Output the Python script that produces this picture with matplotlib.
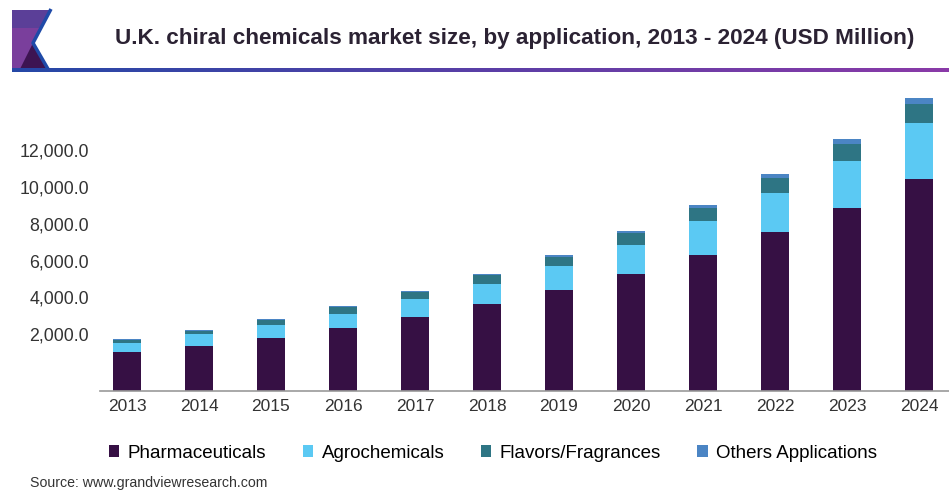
import matplotlib
matplotlib.use("Agg")
import numpy as np
import matplotlib.pyplot as plt
from matplotlib.patches import Polygon, Patch
from matplotlib.colors import LinearSegmentedColormap
from matplotlib.transforms import ScaledTranslation

plt.rcParams['font.family'] = ['Liberation Sans', 'DejaVu Sans']

years = ['2013', '2014', '2015', '2016', '2017', '2018',
         '2019', '2020', '2021', '2022', '2023', '2024']
pharmaceuticals = [2120, 2445, 2880, 3425, 4020, 4730, 5490, 6360, 7390, 8640, 9945, 11520]
agrochemicals = [490, 650, 705, 760, 980, 1085, 1305, 1575, 1850, 2120, 2555, 3045]
flavors = [170, 175, 275, 375, 370, 470, 510, 650, 705, 815, 925, 1030]
others = [40, 40, 50, 60, 65, 75, 90, 110, 165, 215, 270, 325]

series = ['Pharmaceuticals', 'Agrochemicals', 'Flavors/Fragrances', 'Others Applications']
colors = ['#361044', '#5bc9f3', '#2e7584', '#4b85c4']
y_ticks = [2000, 4000, 6000, 8000, 10000, 12000]

W, H = 949, 491
fig = plt.figure(figsize=(W / 100, H / 100), dpi=100)

# main chart area
ax = fig.add_axes([100 / W, 1 - 391 / H, 849 / W, 303.6 / H])
x = np.arange(len(years))
bottom = np.zeros(len(years))
for vals, col in zip([pharmaceuticals, agrochemicals, flavors, others], colors):
    ax.bar(x, vals, width=0.39, bottom=bottom, color=col, edgecolor='none', zorder=2)
    bottom += np.array(vals)

ax.set_xlim(-0.375, 11.417)
ax.set_ylim(0, 16500)
ax.set_xticks(x)
ax.set_xticklabels(years, fontsize=12.5, color='#333333')
ax.set_yticks(y_ticks)
ax.set_yticklabels(['{:,.1f}'.format(v) for v in y_ticks], fontsize=12.8, color='#333333')
ax.tick_params(axis='both', length=0)
ax.tick_params(axis='y', pad=8)
ax.tick_params(axis='x', pad=6)
for s in ['top', 'right', 'left']:
    ax.spines[s].set_visible(False)
ax.spines['bottom'].set_color('#999999')
ax.spines['bottom'].set_linewidth(1.2)

# y labels sit a bit above their gridline positions
shift = ScaledTranslation(0, 20 / 100, fig.dpi_scale_trans)
for lbl in ax.get_yticklabels():
    lbl.set_transform(lbl.get_transform() + shift)

# header decoration, drawn in pixel coordinates
deco = fig.add_axes([0, 0, 1, 1], facecolor='none')
deco.axis('off')

deco.add_patch(Polygon([(12, 10), (50, 10), (33, 43), (47, 69), (12, 69)],
                       closed=True, facecolor='#7a3f9c', edgecolor='none'))
deco.add_patch(Polygon([(12, 10), (50, 10), (40, 28), (12, 28)],
                       closed=True, facecolor='#5b3f98', edgecolor='none'))
deco.add_patch(Polygon([(20, 69), (33, 43), (47, 69)],
                       closed=True, facecolor='#3d1452', edgecolor='none'))
deco.plot([51, 33, 48], [9, 43, 69], color='#1f4aa8', lw=2.5, solid_capstyle='butt')

grad = LinearSegmentedColormap.from_list('hdr', ['#2548a6', '#5a3fa6', '#8a3aa8'])
deco.imshow(np.linspace(0, 1, 256)[None, :], cmap=grad, aspect='auto',
            extent=(12, W, 72, 68), zorder=1)
deco.set_xlim(0, W)
deco.set_ylim(H, 0)

deco.text(115, 38, 'U.K. chiral chemicals market size, by application, 2013 - 2024 (USD Million)',
          fontsize=16.2, fontweight='bold', color='#2b2233', va='center', ha='left')
deco.text(30, 483, 'Source: www.grandviewresearch.com', fontsize=10.2, color='#333333',
          va='center', ha='left')

handles = [Patch(facecolor=c, edgecolor='none') for c in colors]
fig.legend(handles, series, loc='center left', bbox_to_anchor=(109 / W, 1 - 453 / H),
           ncol=4, frameon=False, fontsize=13.5, handlelength=0.55, handleheight=0.55,
           handletextpad=0.45, columnspacing=1.95, borderpad=0, borderaxespad=0)

fig.savefig('out.png', dpi=100)
